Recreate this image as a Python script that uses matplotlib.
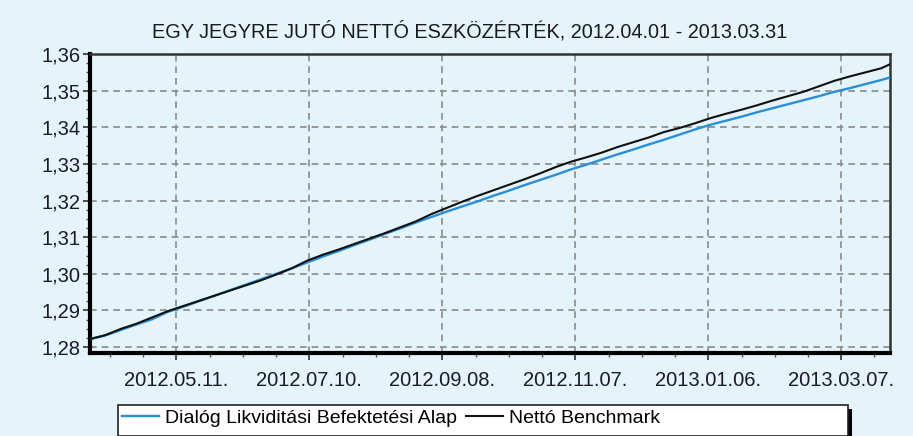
import pandas as pd
import matplotlib
matplotlib.use("Agg")
import matplotlib.pyplot as plt
import matplotlib.dates as mdates
from matplotlib.ticker import FuncFormatter, MultipleLocator
from matplotlib.patches import Rectangle

# weekly net asset value per unit
dates = list(pd.date_range("2012-04-02", "2013-03-25", freq="7D")) + [pd.Timestamp("2013-03-29")]

fund = [1.2822, 1.2832, 1.2847, 1.2862, 1.2876, 1.2896, 1.2910, 1.2925, 1.2940, 1.2955,
        1.2970, 1.2985, 1.3000, 1.3015, 1.3031, 1.3047, 1.3062, 1.3078, 1.3093, 1.3109,
        1.3124, 1.3140, 1.3155, 1.3170, 1.3184, 1.3198, 1.3213, 1.3227, 1.3242, 1.3256,
        1.3270, 1.3285, 1.3298, 1.3312, 1.3326, 1.3339, 1.3353, 1.3366, 1.3380, 1.3394,
        1.3407, 1.3418, 1.3429, 1.3441, 1.3452, 1.3463, 1.3474, 1.3485, 1.3497, 1.3507,
        1.3518, 1.3529, 1.3536]

benchmark = [1.2822, 1.2833, 1.2850, 1.2864, 1.2881, 1.2898, 1.2912, 1.2926, 1.2940, 1.2954,
             1.2968, 1.2982, 1.2998, 1.3015, 1.3036, 1.3052, 1.3066, 1.3081, 1.3096, 1.3111,
             1.3127, 1.3143, 1.3163, 1.3180, 1.3197, 1.3213, 1.3228, 1.3243, 1.3258, 1.3274,
             1.3291, 1.3306, 1.3318, 1.3331, 1.3346, 1.3359, 1.3372, 1.3387, 1.3398, 1.3411,
             1.3425, 1.3437, 1.3448, 1.3460, 1.3473, 1.3485, 1.3497, 1.3512, 1.3527, 1.3539,
             1.3550, 1.3561, 1.3572]

series_names = ["Dialóg Likviditási Befektetési Alap", "Nettó Benchmark"]
title = "EGY JEGYRE JUTÓ NETTÓ ESZKÖZÉRTÉK, 2012.04.01 - 2013.03.31"

bg = "#e4f4fa"
plt.rcParams["font.family"] = ["Liberation Sans", "DejaVu Sans"]

fig = plt.figure(figsize=(9.13, 4.36), dpi=100, facecolor=bg)
ax = fig.add_axes([90 / 913, 1 - 353 / 436, 800 / 913, 299 / 436], facecolor=bg)

ax.plot(dates, fund, color="#2a8fd8", lw=1.7, label=series_names[0], zorder=3)
ax.plot(dates, benchmark, color="#111111", lw=1.5, label=series_names[1], zorder=4)

ax.set_xlim(pd.Timestamp("2012-04-02"), pd.Timestamp("2013-03-29"))
ax.set_ylim(1.2784, 1.36)

# ticks every 60 days starting 2012.05.11, minor every 15 days
major = list(pd.date_range("2012-05-11", "2013-03-29", freq="60D"))
minor = list(pd.date_range("2012-04-11", "2013-03-29", freq="15D"))
ax.set_xticks(major)
ax.set_xticks(minor, minor=True)
ax.xaxis.set_major_formatter(mdates.DateFormatter("%Y.%m.%d."))
ax.yaxis.set_major_locator(MultipleLocator(0.01))
ax.yaxis.set_minor_locator(MultipleLocator(0.0025))
ax.yaxis.set_major_formatter(FuncFormatter(lambda v, p: f"{v:.2f}".replace(".", ",")))

ax.tick_params(axis="both", which="major", labelsize=14.5, colors="#333333",
               labelcolor="#1a1a2a", length=5, width=1.2, direction="out")
ax.tick_params(axis="both", which="minor", length=3, width=1, colors="#555555", direction="out")
ax.tick_params(axis="x", pad=8)
ax.tick_params(axis="y", pad=2)

ax.grid(True, which="major", color="#8a8a8a", ls=(0, (4, 3)), lw=1.2)

for s in ["left", "bottom"]:
    ax.spines[s].set_linewidth(3)
    ax.spines[s].set_color("#000000")
for s in ["top", "right"]:
    ax.spines[s].set_linewidth(1.8)
    ax.spines[s].set_color("#333333")

fig.text(470 / 913, 1 - 31 / 436, title, ha="center", va="center", fontsize=14.3, color="#1a1a1a")

# legend box with shadow
box_x, box_y, box_w, box_h = 118 / 913, 0.0, 730 / 913, 31 / 436
fig.patches.append(Rectangle((box_x + 4 / 913, box_y - 4 / 436), box_w, box_h,
                             transform=fig.transFigure, facecolor="#000000", edgecolor="none"))
fig.patches.append(Rectangle((box_x, box_y), box_w, box_h, transform=fig.transFigure,
                             facecolor="white", edgecolor="#222222", lw=1.2))
handles, labels = ax.get_legend_handles_labels()
fig.legend(handles, labels, loc="center left", bbox_to_anchor=(box_x, box_y + box_h / 2 + 0.005),
           ncol=2, frameon=False, fontsize=14, handlelength=1.9, handletextpad=0.3,
           columnspacing=0.5, borderaxespad=0, borderpad=0.2)

fig.savefig("out.png", dpi=100, facecolor=bg)
